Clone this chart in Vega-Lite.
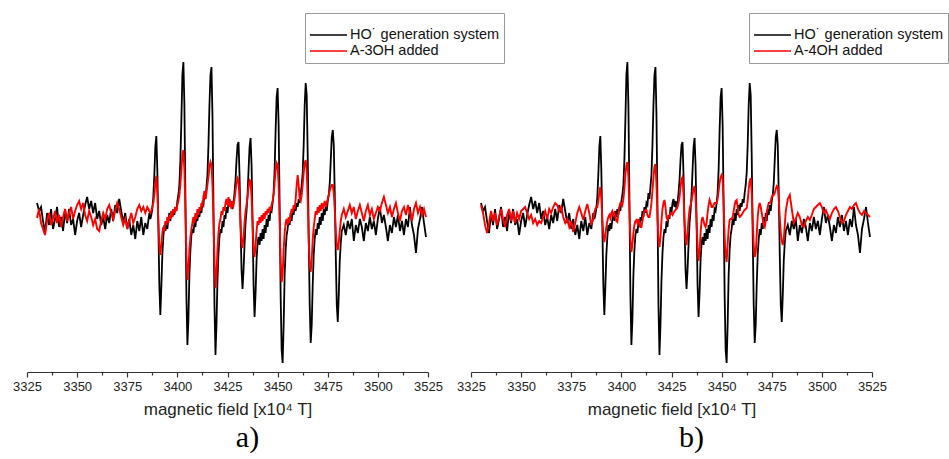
{
"$schema": "https://vega.github.io/schema/vega-lite/v6.json",
"background": "white",
"padding": {"left": 12, "top": 0, "right": 0, "bottom": 0},
"bounds": "flush",
"spacing": 43,
"config": {"view": {"stroke": null}, "font": "Liberation Sans"},
"resolve": {"scale": {"color": "independent"}, "legend": {"color": "independent"}},
"datasets": {"epr": [
{"field":3330,"ho":12,"a3":-3,"a4":10},
{"field":3331,"ho":4,"a3":6,"a4":2},
{"field":3332,"ho":8,"a3":-8,"a4":-10},
{"field":3333,"ho":-6,"a3":-14,"a4":-18},
{"field":3334,"ho":-18,"a3":-20,"a4":-8},
{"field":3335,"ho":2,"a3":-6,"a4":4},
{"field":3336,"ho":-10,"a3":2,"a4":-6},
{"field":3337,"ho":6,"a3":-10,"a4":2},
{"field":3338,"ho":-14,"a3":-4,"a4":-10},
{"field":3339,"ho":-4,"a3":4,"a4":-2},
{"field":3340,"ho":8,"a3":-8,"a4":6},
{"field":3341,"ho":-12,"a3":0,"a4":-4},
{"field":3342,"ho":-2,"a3":-12,"a4":-12},
{"field":3343,"ho":-16,"a3":-2,"a4":0},
{"field":3344,"ho":4,"a3":6,"a4":6},
{"field":3345,"ho":-8,"a3":-6,"a4":-6},
{"field":3346,"ho":6,"a3":2,"a4":4},
{"field":3347,"ho":-10,"a3":8,"a4":-8},
{"field":3348,"ho":-4,"a3":-4,"a4":2},
{"field":3349,"ho":-20,"a3":4,"a4":-4},
{"field":3350,"ho":-6,"a3":10,"a4":4},
{"field":3351,"ho":2,"a3":14,"a4":6},
{"field":3352,"ho":-12,"a3":6,"a4":8},
{"field":3353,"ho":0,"a3":12,"a4":2},
{"field":3354,"ho":10,"a3":0,"a4":-4},
{"field":3355,"ho":18,"a3":-6,"a4":0},
{"field":3356,"ho":6,"a3":4,"a4":-8},
{"field":3357,"ho":14,"a3":-2,"a4":-4},
{"field":3358,"ho":2,"a3":-10,"a4":-10},
{"field":3359,"ho":12,"a3":-4,"a4":-6},
{"field":3360,"ho":-4,"a3":-14,"a4":-8},
{"field":3361,"ho":4,"a3":-16,"a4":-2},
{"field":3362,"ho":-10,"a3":-6,"a4":4},
{"field":3363,"ho":-2,"a3":2,"a4":-4},
{"field":3364,"ho":-14,"a3":-4,"a4":6},
{"field":3365,"ho":0,"a3":6,"a4":2},
{"field":3366,"ho":-8,"a3":10,"a4":8},
{"field":3367,"ho":6,"a3":2,"a4":12},
{"field":3368,"ho":-6,"a3":-4,"a4":10},
{"field":3369,"ho":10,"a3":4,"a4":4},
{"field":3370,"ho":2,"a3":12,"a4":8},
{"field":3371,"ho":16,"a3":6,"a4":-2},
{"field":3372,"ho":4,"a3":-2,"a4":-8},
{"field":3373,"ho":-8,"a3":-10,"a4":-4},
{"field":3374,"ho":2,"a3":-4,"a4":-12},
{"field":3375,"ho":-14,"a3":-14,"a4":-6},
{"field":3376,"ho":-4,"a3":-6,"a4":-17},
{"field":3377,"ho":-20,"a3":2,"a4":-8},
{"field":3378,"ho":-10,"a3":-8,"a4":2},
{"field":3379,"ho":-24,"a3":-2,"a4":8},
{"field":3380,"ho":-6,"a3":6,"a4":2},
{"field":3381,"ho":-16,"a3":10,"a4":-5},
{"field":3382,"ho":-2,"a3":4,"a4":4},
{"field":3383,"ho":-20,"a3":8,"a4":11},
{"field":3384,"ho":-8,"a3":2,"a4":2},
{"field":3385,"ho":-14,"a3":8,"a4":-10},
{"field":3386,"ho":2,"a3":4,"a4":-4},
{"field":3386.5,"ho":-4,"a3":2,"a4":2},
{"field":3387,"ho":0,"a3":4,"a4":6},
{"field":3387.5,"ho":6,"a3":8,"a4":8},
{"field":3388,"ho":18,"a3":12,"a4":8},
{"field":3388.5,"ho":40,"a3":20,"a4":14},
{"field":3389,"ho":68,"a3":32,"a4":22},
{"field":3389.5,"ho":79,"a3":39,"a4":28},
{"field":3390,"ho":45,"a3":22,"a4":16},
{"field":3390.5,"ho":-10,"a3":-5,"a4":-4},
{"field":3391,"ho":-70,"a3":-30,"a4":-20},
{"field":3391.5,"ho":-100,"a3":-40,"a4":-27},
{"field":3392,"ho":-72,"a3":-30,"a4":-20},
{"field":3392.5,"ho":-40,"a3":-18,"a4":-12},
{"field":3393,"ho":-22,"a3":-12,"a4":-6},
{"field":3393.5,"ho":-10,"a3":-16,"a4":-2},
{"field":3394,"ho":-16,"a3":-6,"a4":0},
{"field":3394.5,"ho":-8,"a3":-10,"a4":-3},
{"field":3395,"ho":-14,"a3":-2,"a4":2},
{"field":3395.5,"ho":-4,"a3":-8,"a4":4},
{"field":3396,"ho":2,"a3":0,"a4":0},
{"field":3396.5,"ho":-6,"a3":-4,"a4":2},
{"field":3397,"ho":4,"a3":4,"a4":-2},
{"field":3397.5,"ho":-2,"a3":-2,"a4":-6},
{"field":3398,"ho":6,"a3":6,"a4":-7},
{"field":3398.5,"ho":0,"a3":2,"a4":2},
{"field":3399,"ho":8,"a3":8,"a4":8},
{"field":3399.5,"ho":4,"a3":4,"a4":12},
{"field":3400,"ho":14,"a3":10,"a4":12},
{"field":3400.5,"ho":20,"a3":14,"a4":10},
{"field":3401,"ho":30,"a3":20,"a4":16},
{"field":3401.5,"ho":55,"a3":30,"a4":26},
{"field":3402,"ho":95,"a3":45,"a4":40},
{"field":3402.5,"ho":140,"a3":60,"a4":50},
{"field":3403,"ho":153,"a3":65,"a4":53},
{"field":3403.5,"ho":110,"a3":45,"a4":38},
{"field":3404,"ho":20,"a3":5,"a4":5},
{"field":3404.5,"ho":-80,"a3":-40,"a4":-25},
{"field":3405,"ho":-130,"a3":-65,"a4":-37},
{"field":3405.5,"ho":-105,"a3":-55,"a4":-30},
{"field":3406,"ho":-60,"a3":-35,"a4":-18},
{"field":3406.5,"ho":-35,"a3":-22,"a4":-10},
{"field":3407,"ho":-20,"a3":-14,"a4":-6},
{"field":3407.5,"ho":-14,"a3":-8,"a4":-5},
{"field":3408,"ho":-18,"a3":-2,"a4":-8},
{"field":3408.5,"ho":-8,"a3":-8,"a4":-4},
{"field":3409,"ho":-12,"a3":2,"a4":-10},
{"field":3409.5,"ho":-2,"a3":-4,"a4":-12},
{"field":3410,"ho":-6,"a3":6,"a4":-12},
{"field":3410.5,"ho":4,"a3":0,"a4":-6},
{"field":3411,"ho":-2,"a3":8,"a4":0},
{"field":3411.5,"ho":8,"a3":4,"a4":4},
{"field":3412,"ho":2,"a3":12,"a4":5},
{"field":3412.5,"ho":12,"a3":8,"a4":5},
{"field":3413,"ho":10,"a3":18,"a4":0},
{"field":3413.5,"ho":22,"a3":24,"a4":-2},
{"field":3414,"ho":16,"a3":16,"a4":-2},
{"field":3414.5,"ho":28,"a3":22,"a4":4},
{"field":3415,"ho":40,"a3":30,"a4":12},
{"field":3415.5,"ho":70,"a3":38,"a4":24},
{"field":3416,"ho":110,"a3":48,"a4":38},
{"field":3416.5,"ho":140,"a3":53,"a4":48},
{"field":3417,"ho":148,"a3":50,"a4":51},
{"field":3417.5,"ho":100,"a3":30,"a4":30},
{"field":3418,"ho":10,"a3":-5,"a4":-2},
{"field":3418.5,"ho":-90,"a3":-45,"a4":-25},
{"field":3419,"ho":-140,"a3":-73,"a4":-32},
{"field":3419.5,"ho":-110,"a3":-60,"a4":-22},
{"field":3420,"ho":-65,"a3":-35,"a4":-6},
{"field":3420.5,"ho":-38,"a3":-18,"a4":6},
{"field":3421,"ho":-22,"a3":-8,"a4":12},
{"field":3421.5,"ho":-14,"a3":-4,"a4":15},
{"field":3422,"ho":-18,"a3":4,"a4":8},
{"field":3422.5,"ho":-6,"a3":0,"a4":-2},
{"field":3423,"ho":-12,"a3":8,"a4":-5},
{"field":3423.5,"ho":0,"a3":4,"a4":-3},
{"field":3424,"ho":-4,"a3":12,"a4":0},
{"field":3424.5,"ho":8,"a3":16,"a4":2},
{"field":3425,"ho":2,"a3":10,"a4":2},
{"field":3425.5,"ho":12,"a3":18,"a4":0},
{"field":3426,"ho":16,"a3":8,"a4":2},
{"field":3426.5,"ho":8,"a3":14,"a4":4},
{"field":3427,"ho":14,"a3":6,"a4":5},
{"field":3427.5,"ho":6,"a3":12,"a4":6},
{"field":3428,"ho":12,"a3":10,"a4":8},
{"field":3428.5,"ho":22,"a3":16,"a4":12},
{"field":3429,"ho":35,"a3":24,"a4":18},
{"field":3429.5,"ho":55,"a3":32,"a4":28},
{"field":3430,"ho":70,"a3":37,"a4":36},
{"field":3430.5,"ho":73,"a3":35,"a4":38},
{"field":3431,"ho":40,"a3":15,"a4":20},
{"field":3431.5,"ho":-10,"a3":-10,"a4":-6},
{"field":3432,"ho":-55,"a3":-28,"a4":-24},
{"field":3432.5,"ho":-74,"a3":-33,"a4":-30},
{"field":3433,"ho":-55,"a3":-22,"a4":-18},
{"field":3433.5,"ho":-30,"a3":-8,"a4":-4},
{"field":3434,"ho":-8,"a3":4,"a4":6},
{"field":3434.5,"ho":4,"a3":10,"a4":10},
{"field":3435,"ho":20,"a3":18,"a4":14},
{"field":3435.5,"ho":45,"a3":28,"a4":20},
{"field":3436,"ho":68,"a3":35,"a4":26},
{"field":3436.5,"ho":77,"a3":34,"a4":29},
{"field":3437,"ho":50,"a3":18,"a4":18},
{"field":3437.5,"ho":-5,"a3":-10,"a4":-8},
{"field":3438,"ho":-70,"a3":-35,"a4":-32},
{"field":3438.5,"ho":-102,"a3":-42,"a4":-46},
{"field":3439,"ho":-78,"a3":-30,"a4":-36},
{"field":3439.5,"ho":-45,"a3":-16,"a4":-18},
{"field":3440,"ho":-28,"a3":-6,"a4":-6},
{"field":3440.5,"ho":-22,"a3":-10,"a4":-2},
{"field":3441,"ho":-30,"a3":-2,"a4":-6},
{"field":3441.5,"ho":-18,"a3":-8,"a4":-10},
{"field":3442,"ho":-26,"a3":0,"a4":-12},
{"field":3442.5,"ho":-14,"a3":-6,"a4":-8},
{"field":3443,"ho":-24,"a3":2,"a4":2},
{"field":3443.5,"ho":-10,"a3":-4,"a4":10},
{"field":3444,"ho":-18,"a3":4,"a4":15},
{"field":3444.5,"ho":-4,"a3":0,"a4":12},
{"field":3445,"ho":-12,"a3":6,"a4":8},
{"field":3445.5,"ho":0,"a3":2,"a4":8},
{"field":3446,"ho":-6,"a3":8,"a4":10},
{"field":3446.5,"ho":6,"a3":4,"a4":12},
{"field":3447,"ho":4,"a3":10,"a4":12},
{"field":3447.5,"ho":12,"a3":14,"a4":12},
{"field":3448,"ho":22,"a3":20,"a4":16},
{"field":3448.5,"ho":45,"a3":32,"a4":24},
{"field":3449,"ho":85,"a3":45,"a4":32},
{"field":3449.5,"ho":118,"a3":52,"a4":38},
{"field":3450,"ho":127,"a3":50,"a4":40},
{"field":3450.5,"ho":90,"a3":30,"a4":36},
{"field":3451,"ho":10,"a3":-5,"a4":10},
{"field":3451.5,"ho":-80,"a3":-45,"a4":-22},
{"field":3452,"ho":-135,"a3":-67,"a4":-40},
{"field":3452.5,"ho":-148,"a3":-60,"a4":-47},
{"field":3453,"ho":-110,"a3":-35,"a4":-30},
{"field":3453.5,"ho":-60,"a3":-18,"a4":-14},
{"field":3454,"ho":-35,"a3":-8,"a4":-5},
{"field":3454.5,"ho":-20,"a3":-4,"a4":-4},
{"field":3455,"ho":-14,"a3":-10,"a4":-4},
{"field":3455.5,"ho":-4,"a3":-2,"a4":-2},
{"field":3456,"ho":-10,"a3":-8,"a4":4},
{"field":3456.5,"ho":2,"a3":0,"a4":10},
{"field":3457,"ho":-6,"a3":6,"a4":14},
{"field":3457.5,"ho":6,"a3":2,"a4":15},
{"field":3458,"ho":0,"a3":10,"a4":8},
{"field":3458.5,"ho":10,"a3":6,"a4":0},
{"field":3459,"ho":4,"a3":16,"a4":-2},
{"field":3459.5,"ho":12,"a3":30,"a4":-1},
{"field":3460,"ho":8,"a3":40,"a4":0},
{"field":3460.5,"ho":16,"a3":30,"a4":2},
{"field":3461,"ho":12,"a3":16,"a4":4},
{"field":3461.5,"ho":22,"a3":14,"a4":5},
{"field":3462,"ho":30,"a3":20,"a4":6},
{"field":3462.5,"ho":42,"a3":30,"a4":7},
{"field":3463,"ho":70,"a3":42,"a4":14},
{"field":3463.5,"ho":110,"a3":52,"a4":26},
{"field":3464,"ho":132,"a3":55,"a4":34},
{"field":3464.5,"ho":120,"a3":45,"a4":37},
{"field":3465,"ho":60,"a3":15,"a4":22},
{"field":3465.5,"ho":-20,"a3":-25,"a4":-5},
{"field":3466,"ho":-90,"a3":-50,"a4":-30},
{"field":3466.5,"ho":-128,"a3":-57,"a4":-42},
{"field":3467,"ho":-110,"a3":-45,"a4":-38},
{"field":3467.5,"ho":-70,"a3":-25,"a4":-20},
{"field":3468,"ho":-40,"a3":-12,"a4":-2},
{"field":3468.5,"ho":-24,"a3":-4,"a4":8},
{"field":3469,"ho":-14,"a3":4,"a4":12},
{"field":3469.5,"ho":-20,"a3":0,"a4":8},
{"field":3470,"ho":-8,"a3":8,"a4":2},
{"field":3470.5,"ho":-14,"a3":2,"a4":-4},
{"field":3471,"ho":-2,"a3":10,"a4":-10},
{"field":3471.5,"ho":-10,"a3":4,"a4":-12},
{"field":3472,"ho":2,"a3":12,"a4":-6},
{"field":3472.5,"ho":-6,"a3":6,"a4":2},
{"field":3473,"ho":6,"a3":10,"a4":8},
{"field":3473.5,"ho":0,"a3":14,"a4":12},
{"field":3474,"ho":10,"a3":8,"a4":12},
{"field":3474.5,"ho":4,"a3":12,"a4":14},
{"field":3475,"ho":14,"a3":16,"a4":18},
{"field":3475.5,"ho":20,"a3":20,"a4":20},
{"field":3476,"ho":32,"a3":24,"a4":20},
{"field":3476.5,"ho":55,"a3":28,"a4":22},
{"field":3477,"ho":78,"a3":30,"a4":26},
{"field":3477.5,"ho":85,"a3":30,"a4":29},
{"field":3478,"ho":70,"a3":22,"a4":28},
{"field":3478.5,"ho":20,"a3":5,"a4":16},
{"field":3479,"ho":-40,"a3":-15,"a4":-2},
{"field":3479.5,"ho":-90,"a3":-30,"a4":-18},
{"field":3480,"ho":-107,"a3":-35,"a4":-26},
{"field":3480.5,"ho":-80,"a3":-28,"a4":-30},
{"field":3481,"ho":-45,"a3":-16,"a4":-24},
{"field":3481.5,"ho":-28,"a3":-6,"a4":-10},
{"field":3482,"ho":-16,"a3":0,"a4":4},
{"field":3483,"ho":-10,"a3":6,"a4":16},
{"field":3484,"ho":-20,"a3":-2,"a4":20},
{"field":3485,"ho":-6,"a3":4,"a4":6},
{"field":3486,"ho":-14,"a3":10,"a4":-8},
{"field":3487,"ho":-4,"a3":2,"a4":-4},
{"field":3488,"ho":-26,"a3":8,"a4":2},
{"field":3489,"ho":-10,"a3":-4,"a4":-2},
{"field":3490,"ho":-18,"a3":4,"a4":-10},
{"field":3491,"ho":-4,"a3":10,"a4":-12},
{"field":3492,"ho":-12,"a3":2,"a4":-6},
{"field":3493,"ho":-26,"a3":-6,"a4":-2},
{"field":3494,"ho":-8,"a3":4,"a4":-5},
{"field":3495,"ho":-16,"a3":10,"a4":0},
{"field":3496,"ho":-2,"a3":0,"a4":6},
{"field":3497,"ho":-14,"a3":6,"a4":8},
{"field":3498,"ho":-6,"a3":-4,"a4":10},
{"field":3499,"ho":-20,"a3":2,"a4":12},
{"field":3500,"ho":-4,"a3":8,"a4":8},
{"field":3501,"ho":8,"a3":4,"a4":2},
{"field":3502,"ho":-8,"a3":12,"a4":5},
{"field":3503,"ho":0,"a3":18,"a4":0},
{"field":3504,"ho":-12,"a3":10,"a4":-4},
{"field":3505,"ho":-26,"a3":2,"a4":2},
{"field":3506,"ho":-10,"a3":8,"a4":6},
{"field":3507,"ho":-18,"a3":-2,"a4":8},
{"field":3508,"ho":-2,"a3":6,"a4":4},
{"field":3509,"ho":-12,"a3":12,"a4":-2},
{"field":3510,"ho":0,"a3":2,"a4":-8},
{"field":3511,"ho":-16,"a3":-6,"a4":-6},
{"field":3512,"ho":-6,"a3":4,"a4":0},
{"field":3513,"ho":-20,"a3":8,"a4":4},
{"field":3514,"ho":-4,"a3":0,"a4":8},
{"field":3515,"ho":-12,"a3":10,"a4":6},
{"field":3516,"ho":8,"a3":2,"a4":10},
{"field":3517,"ho":-10,"a3":-6,"a4":12},
{"field":3518,"ho":-20,"a3":6,"a4":6},
{"field":3519,"ho":-38,"a3":12,"a4":2},
{"field":3520,"ho":-14,"a3":2,"a4":0},
{"field":3521,"ho":-4,"a3":8,"a4":4},
{"field":3522,"ho":8,"a3":0,"a4":2},
{"field":3523,"ho":-8,"a3":6,"a4":0},
{"field":3524,"ho":-22,"a3":-2,"a4":-2}
]},
"hconcat": [
{
"width": 401, "height": 372,
"title": {"text": "a)", "orient": "bottom", "anchor": "middle", "font": "Liberation Serif", "fontSize": 30, "fontWeight": "normal", "color": "#000", "dx": 20, "offset": 6},
"data": {"name": "epr"},
"resolve": {"axis": {"x": "independent"}},
"layer": [
{"mark": {"type": "line", "strokeWidth": 1.8, "clip": true},
 "encoding": {
  "x": {"field": "field", "type": "quantitative", "scale": {"domain": [3325, 3525], "nice": false, "zero": false},
   "axis": {"values": [3325,3350,3375,3400,3425,3450,3475,3500,3525], "format": "d", "grid": false, "tickSize": 5, "tickColor": "#333", "domainColor": "#333", "tickWidth": 1.2, "domainWidth": 1.2, "labelFontSize": 13, "labelColor": "#222", "labelPadding": 3, "labelFlush": false, "title": "magnetic field [x10\u2074 T]", "titleFontSize": 17, "titleFontWeight": "normal", "titleColor": "#222", "titlePadding": 8}},
  "y": {"field": "ho", "type": "quantitative", "scale": {"domain": [-157, 215], "nice": false, "zero": false}, "axis": null},
  "color": {"datum": "HO\u02d9 generation system", "type": "nominal",
   "scale": {"domain": ["HO\u02d9 generation system", "A-3OH added"], "range": ["#000000", "#ff0000"]},
   "legend": {"orient": "none", "legendX": 278, "legendY": 13, "title": " ", "titleFontSize": 8, "titlePadding": 2, "padding": 4, "strokeColor": "#999", "fillColor": "white", "symbolType": "stroke", "symbolSize": 1369, "symbolStrokeWidth": 1.6, "clipHeight": 16, "labelFontSize": 14.5, "labelColor": "#111", "labelOffset": 2, "rowPadding": 0}}
 }},
{"mark": {"type": "line", "strokeWidth": 1.9, "clip": true},
 "encoding": {
  "x": {"field": "field", "type": "quantitative",
   "axis": {"orient": "bottom", "values": [3337.5,3362.5,3387.5,3412.5,3437.5,3462.5,3487.5,3512.5], "grid": false, "labels": false, "domain": false, "tickSize": 3, "tickWidth": 1.2, "tickColor": "#333", "title": null}},
  "y": {"field": "a3", "type": "quantitative"},
  "color": {"datum": "A-3OH added", "type": "nominal"}
 }}
]
},
{
"width": 401, "height": 372,
"title": {"text": "b)", "orient": "bottom", "anchor": "middle", "font": "Liberation Serif", "fontSize": 30, "fontWeight": "normal", "color": "#000", "dx": 20, "offset": 6},
"data": {"name": "epr"},
"resolve": {"axis": {"x": "independent"}},
"layer": [
{"mark": {"type": "line", "strokeWidth": 1.8, "clip": true},
 "encoding": {
  "x": {"field": "field", "type": "quantitative", "scale": {"domain": [3325, 3525], "nice": false, "zero": false},
   "axis": {"values": [3325,3350,3375,3400,3425,3450,3475,3500,3525], "format": "d", "grid": false, "tickSize": 5, "tickColor": "#333", "domainColor": "#333", "tickWidth": 1.2, "domainWidth": 1.2, "labelFontSize": 13, "labelColor": "#222", "labelPadding": 3, "labelFlush": false, "title": "magnetic field [x10\u2074 T]", "titleFontSize": 17, "titleFontWeight": "normal", "titleColor": "#222", "titlePadding": 8}},
  "y": {"field": "ho", "type": "quantitative", "scale": {"domain": [-157, 215], "nice": false, "zero": false}, "axis": null},
  "color": {"datum": "HO\u02d9 generation system", "type": "nominal",
   "scale": {"domain": ["HO\u02d9 generation system", "A-4OH added"], "range": ["#000000", "#ff0000"]},
   "legend": {"orient": "none", "legendX": 278, "legendY": 13, "title": " ", "titleFontSize": 8, "titlePadding": 2, "padding": 4, "strokeColor": "#999", "fillColor": "white", "symbolType": "stroke", "symbolSize": 1369, "symbolStrokeWidth": 1.6, "clipHeight": 16, "labelFontSize": 14.5, "labelColor": "#111", "labelOffset": 2, "rowPadding": 0}}
 }},
{"mark": {"type": "line", "strokeWidth": 1.9, "clip": true},
 "encoding": {
  "x": {"field": "field", "type": "quantitative",
   "axis": {"orient": "bottom", "values": [3337.5,3362.5,3387.5,3412.5,3437.5,3462.5,3487.5,3512.5], "grid": false, "labels": false, "domain": false, "tickSize": 3, "tickWidth": 1.2, "tickColor": "#333", "title": null}},
  "y": {"field": "a4", "type": "quantitative"},
  "color": {"datum": "A-4OH added", "type": "nominal"}
 }}
]
}
]
}
